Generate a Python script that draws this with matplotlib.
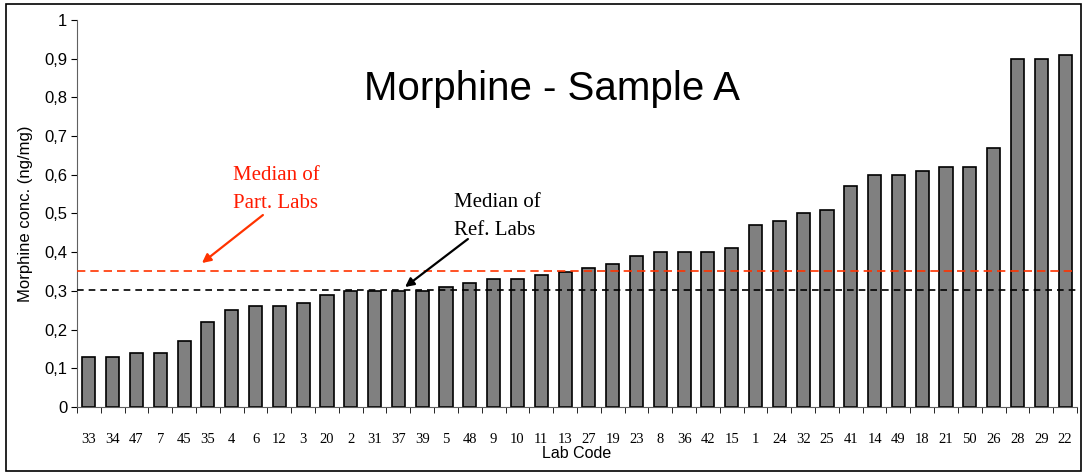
import numpy as np
import matplotlib.pyplot as plt
from matplotlib.patches import Rectangle

# Lab codes (tries par concentration) et valeurs
labs = ["33", "34", "47", "7", "45", "35", "4", "6", "12", "3", "20", "2", "31", "37",
        "39", "5", "48", "9", "10", "11", "13", "27", "19", "23", "8", "36", "42", "15",
        "1", "24", "32", "25", "41", "14", "49", "18", "21", "50", "26", "28", "29", "22"]
conc = [0.13, 0.13, 0.14, 0.14, 0.17, 0.22, 0.25, 0.26, 0.26, 0.27, 0.29, 0.30, 0.30, 0.30,
        0.30, 0.31, 0.32, 0.33, 0.33, 0.34, 0.35, 0.36, 0.37, 0.39, 0.40, 0.40, 0.40, 0.41,
        0.47, 0.48, 0.50, 0.51, 0.57, 0.60, 0.60, 0.61, 0.62, 0.62, 0.67, 0.90, 0.90, 0.91]
median_part = 0.352
median_ref = 0.303

fig = plt.figure(figsize=(10.84, 4.72), dpi=100)
ax = fig.add_axes([0.071, 0.1377, 0.9225, 0.82])

x = np.arange(len(labs))
ax.bar(x, conc, width=0.55, color="#808080", edgecolor="black", linewidth=1.2, zorder=2)

ax.axhline(median_part, color="#ff3300", linestyle=(0, (5, 3)), linewidth=1.2, zorder=3)
ax.axhline(median_ref, color="black", linestyle=(0, (4, 3)), linewidth=1.2, zorder=3)

ax.set_xlim(-0.5, len(labs) - 0.5)
ax.set_ylim(0, 1)
yt = np.arange(0, 1.01, 0.1)
ax.set_yticks(yt)
ax.set_yticklabels(["0"] + [("%.1f" % v).replace(".", ",") for v in yt[1:-1]] + ["1"],
                   fontsize=12, family="Liberation Sans")
ax.set_xticks(x)
ax.set_xticklabels(labs, fontsize=10.5, family="Liberation Serif")
ax.tick_params(axis="x", length=0, pad=19)
ax.set_xticks(np.arange(-0.5, len(labs), 1), minor=True)
ax.tick_params(axis="x", which="minor", length=4, direction="out")
ax.tick_params(axis="y", length=4, direction="out", pad=3)

for s in ["top", "right"]:
    ax.spines[s].set_visible(False)
ax.spines["left"].set_color("#606060")
ax.spines["bottom"].set_color("#606060")

ax.set_ylabel("Morphine conc. (ng/mg)", fontsize=12, family="Liberation Sans", labelpad=8)
ax.set_xlabel("Lab Code", fontsize=11.5, family="Liberation Sans", labelpad=0)

ax.text(0.475, 0.793, "Morphine - Sample A", transform=ax.transAxes, ha="center", va="baseline",
        fontsize=29, family="Liberation Sans")

# annotations (texte + fleche)
red = "#ff3300"
ax.text(6.05, 0.587, "Median of", color="#ff1a00", fontsize=15, family="Liberation Serif", va="baseline")
ax.text(6.05, 0.514, "Part. Labs", color="#ff1a00", fontsize=15, family="Liberation Serif", va="baseline")
ax.annotate("", xy=(4.75, 0.372), xytext=(7.31, 0.496),
            arrowprops=dict(arrowstyle="-|>", color=red, lw=1.6, mutation_scale=13,
                            shrinkA=0, shrinkB=0))

ax.text(15.33, 0.517, "Median of", color="black", fontsize=15, family="Liberation Serif", va="baseline")
ax.text(15.33, 0.444, "Ref. Labs", color="black", fontsize=15, family="Liberation Serif", va="baseline")
ax.annotate("", xy=(13.28, 0.31), xytext=(15.92, 0.434),
            arrowprops=dict(arrowstyle="-|>", color="black", lw=1.6, mutation_scale=13,
                            shrinkA=0, shrinkB=0))

# cadre exterieur
fig.patches.append(Rectangle((0.0055, 0.003), 0.992, 0.988, transform=fig.transFigure,
                             fill=False, edgecolor="black", linewidth=1.2))

fig.savefig("out.png", dpi=100)
